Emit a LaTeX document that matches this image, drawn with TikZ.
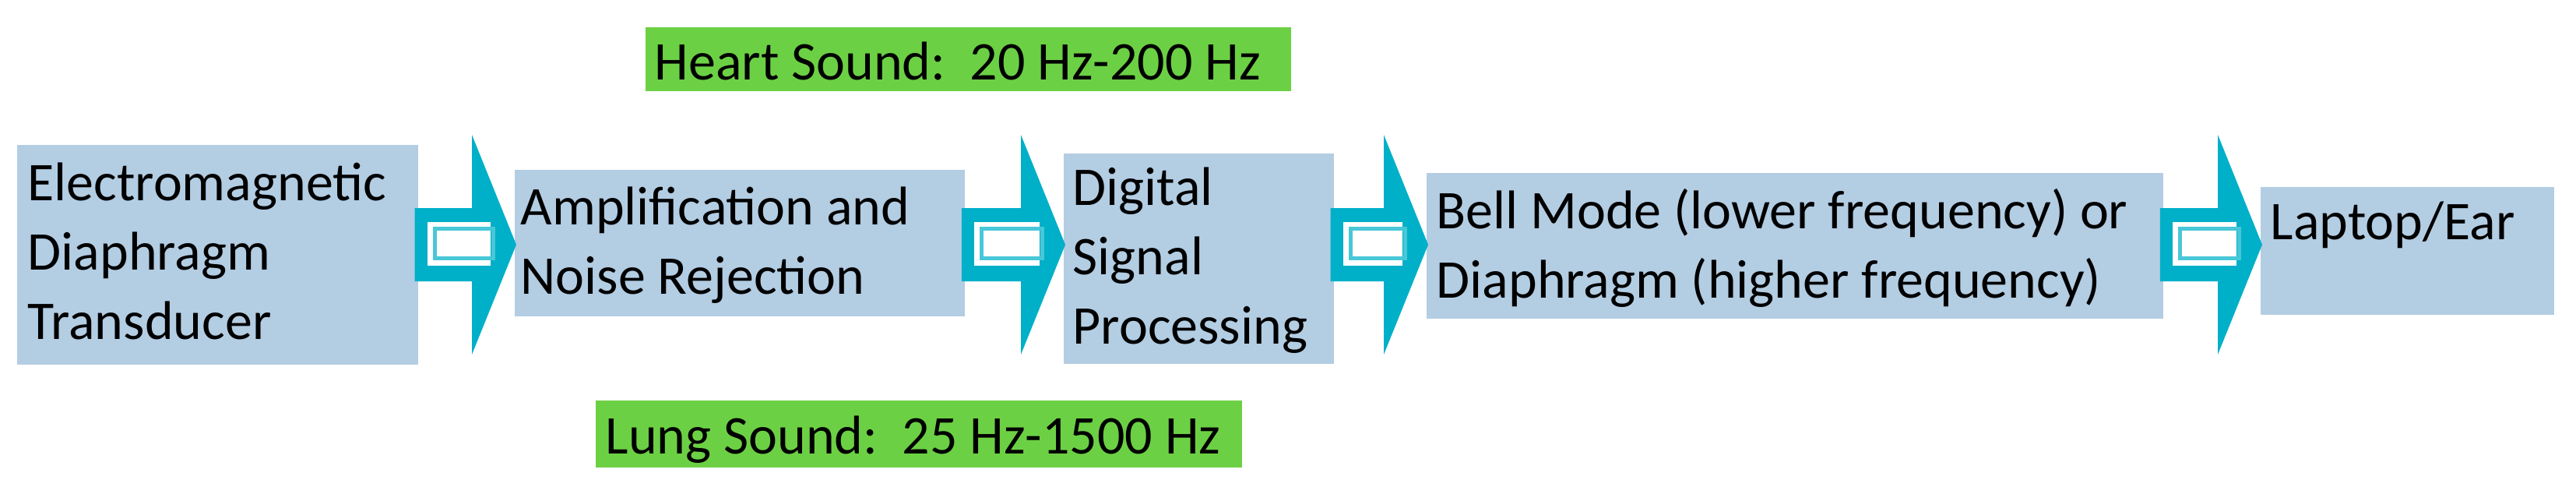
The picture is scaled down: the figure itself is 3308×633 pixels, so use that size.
\documentclass[tikz,border=0pt]{standalone}
\usepackage{fontspec}
\setmainfont{Carlito}
\usetikzlibrary{calc}

\definecolor{boxblue}{HTML}{B3CDE3}
\definecolor{bandgreen}{HTML}{6CD044}
\definecolor{pipecyan}{HTML}{00B0C8}
\definecolor{pipelight}{HTML}{48C7D8}

\tikzset{
  stage/.style={fill=boxblue, anchor=north west, inner ysep=0pt, align=flush left,
    font=\fontsize{19.9}{25.3}\selectfont\frenchspacing},
  band/.style={fill=bandgreen, anchor=north west, inner ysep=0pt, align=flush left,
    font=\fontsize{19.9}{25.3}\selectfont\frenchspacing},
}

% block arrow from one stage to the next
\newcommand{\pipe}[2]{%
  \path (#1.east |- axis) coordinate (s) (#2.west |- axis) coordinate (t);
  \fill[pipecyan] ($(s)+(-5,-47)$) -- ($(t)+(-54,-47)$) -- ($(t)+(-54,-141)$)
    -- ($(t)+(3,0)$) -- ($(t)+(-54,141)$) -- ($(t)+(-54,47)$) -- ($(s)+(-5,47)$) -- cycle;
  \fill[white] ($(s)+(11,-29)$) rectangle ($(t)+(-30,27)$);
  \draw[pipelight, line width=0.05cm] ($(s)+(21,-21)$) rectangle ($(t)+(-27,17)$);
}

\begin{document}
\begin{tikzpicture}[x=0.01cm, y=-0.01cm]
        \useasboundingbox (0,0) rectangle (3308,633);
        \coordinate (axis) at (0,314);

        \node[stage, text width=4.87cm, inner xsep=0.14cm, text height=0.72cm, text depth=2.10cm]
          (trans) at (21,185) {Electromagnetic\\Diaphragm\\Transducer};
        \node[stage, text width=5.62cm, inner xsep=0.08cm, text height=0.71cm, text depth=1.17cm]
          (amp) at (660,217) {Amplification and\\Noise Rejection};
        \node[stage, text width=3.23cm, inner xsep=0.12cm, text height=0.67cm, text depth=2.03cm]
          (dsp) at (1365,196) {Digital\\Signal\\Processing};
        \node[stage, text width=9.20cm, inner xsep=0.13cm, text height=0.72cm, text depth=1.15cm]
          (mode) at (1831,221) {Bell Mode (lower frequency) or\\Diaphragm (higher frequency)};
        \node[stage, text width=3.51cm, inner xsep=0.13cm, text height=0.68cm, text depth=0.96cm]
          (out) at (2902,239) {Laptop/Ear};

        \node[band, text width=8.05cm, inner xsep=0.12cm, text height=0.68cm, text depth=0.14cm]
          (heart) at (828,34) {Heart Sound:~ 20 Hz-200 Hz};
        \node[band, text width=8.04cm, inner xsep=0.13cm, text height=0.69cm, text depth=0.17cm]
          (lung) at (764,513) {Lung Sound:~ 25 Hz-1500 Hz};

        \pipe{trans}{amp}
        \pipe{amp}{dsp}
        \pipe{dsp}{mode}
        \pipe{mode}{out}
      \end{tikzpicture}
\end{document}
